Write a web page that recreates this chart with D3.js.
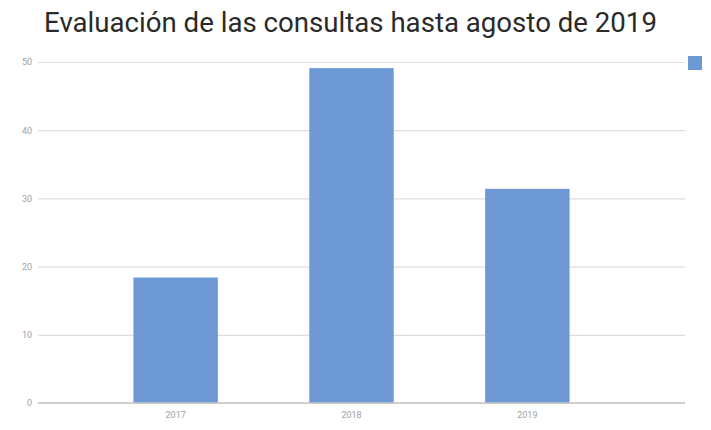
<!DOCTYPE html>
<html>
<head>
<meta charset="utf-8">
<script src="https://cdn.jsdelivr.net/npm/d3@7"></script>
<style>
  html, body { margin: 0; padding: 0; background: #fff; }
  svg { display: block; }
</style>
</head>
<body>
<svg id="chart" width="711" height="430"></svg>
<script>
// Consultas por año
const years = ["2017", "2018", "2019"];
const consultas = [18.4, 49.1, 31.4];
const yTicks = [0, 10, 20, 30, 40, 50];
const titleText = "Evaluación de las consultas hasta agosto de 2019";

const svg = d3.select("#chart");
const plot = { left: 38, right: 685, top: 62, bottom: 403 };

const x = d3.scaleBand()
  .domain(years)
  .range([42, 661])
  .padding(0.52);

const y = d3.scaleLinear()
  .domain([0, 50])
  .range([plot.bottom, plot.top]);

// Title, sized to its box
const title = svg.append("text")
  .attr("x", (44 + 657) / 2)
  .attr("y", 32)
  .attr("text-anchor", "middle")
  .attr("font-family", "Roboto, 'Noto Sans', sans-serif")
  .attr("font-size", 26)
  .attr("fill", "#2a2a2a")
  .text(titleText);
const tw = title.node().getComputedTextLength();
title.attr("font-size", 26 * 613 / tw);

// Gridlines and y labels
const yAxis = d3.axisLeft(y)
  .tickValues(yTicks)
  .tickSize(-(plot.right - plot.left))
  .tickPadding(6)
  .tickFormat(d3.format("d"));

const gy = svg.append("g")
  .attr("transform", `translate(${plot.left},0)`)
  .call(yAxis);
gy.select(".domain").remove();
gy.selectAll(".tick line")
  .attr("stroke", "#dedede")
  .attr("stroke-width", 1.2);
gy.selectAll(".tick text")
  .attr("font-family", "Roboto, sans-serif")
  .attr("font-size", 9)
  .attr("fill", "#a0a0a0");

// Bars
svg.append("g")
  .selectAll("rect")
  .data(years.map((yr, i) => ({ yr, v: consultas[i] })))
  .join("rect")
  .attr("x", d => x(d.yr))
  .attr("width", x.bandwidth())
  .attr("y", d => y(d.v))
  .attr("height", d => y(0) - y(d.v))
  .attr("fill", "#6c98d3");

// Baseline over the bars
svg.append("line")
  .attr("x1", plot.left).attr("x2", plot.right)
  .attr("y1", y(0)).attr("y2", y(0))
  .attr("stroke", "#c4c4c4").attr("stroke-width", 1.5);

// Category labels
const xAxis = d3.axisBottom(x).tickSize(0).tickPadding(9);
const gx = svg.append("g")
  .attr("transform", `translate(0,${plot.bottom})`)
  .call(xAxis);
gx.select(".domain").remove();
gx.selectAll(".tick text")
  .attr("font-family", "Roboto, sans-serif")
  .attr("font-size", 9)
  .attr("fill", "#a0a0a0");

// Legend swatch
svg.append("rect")
  .attr("x", 688).attr("y", 56)
  .attr("width", 14).attr("height", 14)
  .attr("fill", "#6c98d3");
</script>
</body>
</html>
